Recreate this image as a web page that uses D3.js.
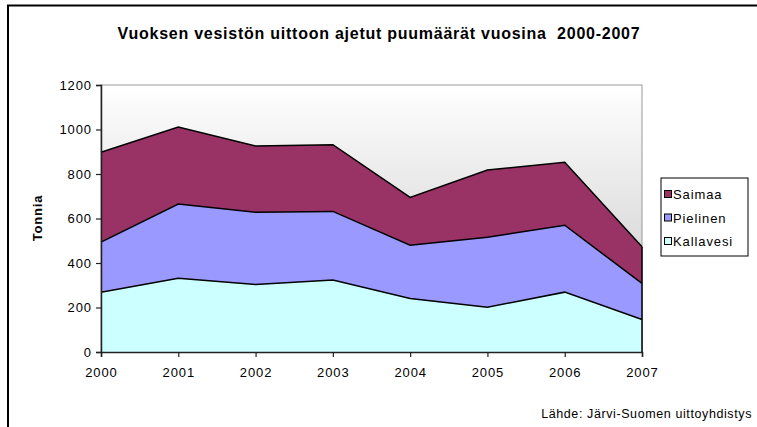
<!DOCTYPE html>
<html><head><meta charset="utf-8">
<script src="https://cdn.jsdelivr.net/npm/d3@7"></script>
<style>body{margin:0;background:#fff}svg{display:block}text{font-family:"Liberation Sans",Arial,sans-serif}</style>
</head><body><svg id="c" width="757" height="427"></svg>
<script>
const years = [2000, 2001, 2002, 2003, 2004, 2005, 2006, 2007];
const kallavesi = [269, 331, 303, 324, 240, 201, 269, 146];
const pielinen = [225, 334, 325, 308, 240, 315, 301, 162];
const saimaa = [404, 346, 298, 300, 215, 302, 283, 165];
const seriesNames = ["Kallavesi", "Pielinen", "Saimaa"];
const seriesColors = ["#CCFFFF", "#9999FF", "#993366"];
const yTicks = [0, 200, 400, 600, 800, 1000, 1200];

const svg = d3.select("#c");
const m = {l: 101, r: 642, t: 85, b: 352};

svg.append("rect").attr("x", 8).attr("y", 5.5).attr("width", 760).attr("height", 440)
  .attr("fill", "#fff").attr("stroke", "#000").attr("stroke-width", 2);

const defs = svg.append("defs");
const g = defs.append("linearGradient").attr("id", "bg").attr("x1", 0).attr("y1", 0).attr("x2", 0).attr("y2", 1);
g.append("stop").attr("offset", "0%").attr("stop-color", "#ffffff");
g.append("stop").attr("offset", "100%").attr("stop-color", "#c4c4c4");

const x = d3.scaleLinear().domain([2000, 2007]).range([m.l, m.r]);
const y = d3.scaleLinear().domain([0, 1200]).range([m.b, m.t]);

svg.append("rect").attr("x", m.l).attr("y", m.t).attr("width", m.r - m.l).attr("height", m.b - m.t)
  .attr("fill", "url(#bg)").attr("stroke", "#999").attr("stroke-width", 1);

const data = years.map((yr, i) => ({year: yr, Kallavesi: kallavesi[i], Pielinen: pielinen[i], Saimaa: saimaa[i]}));
const stack = d3.stack().keys(seriesNames)(data);
const area = d3.area().x(d => x(d.data.year)).y0(d => y(d[0])).y1(d => y(d[1]));
const line = d3.line().x(d => x(d.data.year)).y(d => y(d[1]));

stack.forEach((s, i) => {
  svg.append("path").datum(s).attr("d", area).attr("fill", seriesColors[i]);
});
stack.forEach((s, i) => {
  svg.append("path").datum(s).attr("d", line).attr("fill", "none").attr("stroke", "#000").attr("stroke-width", 1.5);
});
svg.append("line").attr("x1", x(2007)).attr("x2", x(2007)).attr("y1", y(0)).attr("y2", y(kallavesi[7] + pielinen[7] + saimaa[7]))
  .attr("stroke", "#000").attr("stroke-width", 1.5);

const yAxis = svg.append("g").attr("transform", `translate(${m.l},0)`)
  .call(d3.axisLeft(y).tickValues(yTicks).tickSize(5).tickPadding(4).tickFormat(d3.format("d")));
const xAxis = svg.append("g").attr("transform", `translate(0,${m.b})`)
  .call(d3.axisBottom(x).tickValues(years).tickSize(5).tickPadding(11).tickFormat(d3.format("d")));
[yAxis, xAxis].forEach(a => {
  a.select(".domain").attr("stroke", "#222").attr("stroke-width", 1.5);
  a.selectAll(".tick line").attr("stroke", "#222").attr("stroke-width", 1.2);
  a.selectAll("text").attr("font-size", 13).attr("letter-spacing", 0.9).attr("fill", "#000")
    .attr("font-family", "Liberation Sans, Arial, sans-serif");
});

svg.append("text").attr("x", 379).attr("y", 39).attr("text-anchor", "middle").style("white-space", "pre")
  .attr("font-size", 16).attr("letter-spacing", 0.75).attr("font-weight", "bold")
  .text("Vuoksen vesistön uittoon ajetut puumäärät vuosina  2000-2007");

svg.append("text").attr("transform", "translate(42,218) rotate(-90)").attr("text-anchor", "middle")
  .attr("font-size", 13).attr("letter-spacing", 0.8).attr("font-weight", "bold").text("Tonnia");

svg.append("text").attr("x", 752).attr("y", 418).attr("text-anchor", "end")
  .attr("font-size", 12.5).attr("letter-spacing", 0.6).text("Lähde: Järvi-Suomen uittoyhdistys");

const lg = svg.append("g");
lg.append("rect").attr("x", 661).attr("y", 178).attr("width", 87).attr("height", 78)
  .attr("fill", "#fff").attr("stroke", "#000").attr("stroke-width", 1);
const legendOrder = ["Saimaa", "Pielinen", "Kallavesi"];
legendOrder.forEach((n, i) => {
  const cy = 194 + i * 23.5;
  lg.append("rect").attr("x", 664.5).attr("y", cy - 3.5).attr("width", 7).attr("height", 7)
    .attr("fill", seriesColors[seriesNames.indexOf(n)]).attr("stroke", "#000").attr("stroke-width", 1);
  lg.append("text").attr("x", 673).attr("y", cy + 5).attr("font-size", 13).attr("letter-spacing", 0.9).text(n);
});
</script></body></html>
